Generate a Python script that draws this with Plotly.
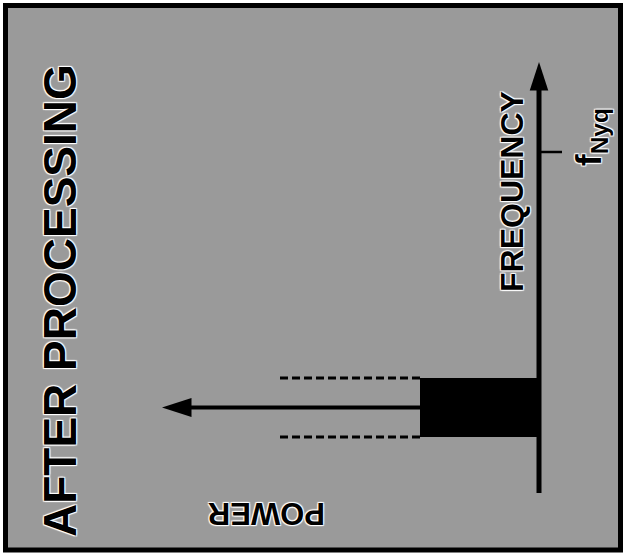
import plotly.graph_objects as go

# ---- data (diagram is drawn rotated: frequency runs upward, power runs leftward) ----
title_text = "AFTER PROCESSING"
freq_label = "FREQUENCY"
power_label = "POWER"
nyq_label = "f<sub>Nyq</sub>"

freq_axis_start = 0.0
freq_axis_end = 4.31
nyquist_freq = 3.41
nyq_tick_len = 0.23

band_low = 0.56
band_high = 1.15
band_power = 1.19          # height of the black band (power)
dash_extent = 2.61         # power reached by the dashed guides
signal_arrow_power = 3.77  # tip of the power arrow

# axis ranges (power axis reversed: increases to the left)
power_range = [5.39, -0.86]
freq_range = [-0.64, 4.93]

BG = "#9a9a9a"
FONT = "Liberation Sans, Arial, Helvetica, sans-serif"
HALO = "1px 1px 1px #ffffff, -1px -1px 1px #ffffff, 1px -1px 1px #ffffff, -1px 1px 1px #ffffff"

band_center = (band_low + band_high) / 2

fig = go.Figure()

# black band
fig.add_trace(go.Bar(
    orientation="h",
    x=[band_power], y=[band_center], base=[0],
    width=[band_high - band_low],
    marker=dict(color="black", line=dict(width=0)),
    hoverinfo="skip", showlegend=False,
))

# dashed guides extending the band edges
for f in (band_low, band_high):
    fig.add_trace(go.Scatter(
        x=[band_power, dash_extent], y=[f, f], mode="lines",
        line=dict(color="black", width=3, dash="8px,4px"),
        hoverinfo="skip", showlegend=False,
    ))

# Nyquist tick
fig.add_trace(go.Scatter(
    x=[0, -nyq_tick_len], y=[nyquist_freq, nyquist_freq], mode="lines",
    line=dict(color="black", width=2.5),
    hoverinfo="skip", showlegend=False,
))

# frequency axis arrow
fig.add_trace(go.Scatter(
    x=[0, 0], y=[freq_axis_start, freq_axis_end], mode="lines+markers",
    line=dict(color="black", width=5),
    marker=dict(symbol="arrow", size=[0, 30], angleref="previous", color="black",
                opacity=1, line=dict(width=0, color="black")),
    opacity=1, hoverinfo="skip", showlegend=False,
))

# power arrow
fig.add_trace(go.Scatter(
    x=[band_power, signal_arrow_power], y=[band_center, band_center], mode="lines+markers",
    line=dict(color="black", width=4),
    marker=dict(symbol="arrow", size=[0, 31], angleref="previous", color="black",
                opacity=1, line=dict(width=0, color="black")),
    opacity=1, hoverinfo="skip", showlegend=False,
))

annotations = [
    dict(x=0.27, y=3.01, xref="x", yref="y", text=f"<b>{freq_label}</b>",
         textangle=-90, showarrow=False, xanchor="center", yanchor="middle",
         font=dict(family=FONT, size=32, color="black", shadow=HALO)),
    dict(x=-0.52, y=3.56, xref="x", yref="y", text=f"<b>{nyq_label}</b>",
         textangle=-90, showarrow=False, xanchor="center", yanchor="middle",
         font=dict(family=FONT, size=35, color="black", shadow=HALO)),
    dict(x=2.72, y=-0.21, xref="x", yref="y", text=f"<b>{power_label}</b>",
         textangle=180, showarrow=False, xanchor="center", yanchor="middle",
         font=dict(family=FONT, size=31, color="black", shadow=HALO)),
    dict(x=4.79, y=1.92, xref="x", yref="y", text=f"<b>{title_text}</b>",
         textangle=-90, showarrow=False, xanchor="center", yanchor="middle",
         font=dict(family=FONT, size=46, color="black", shadow=HALO)),
]

shapes = [
    dict(type="rect", xref="paper", yref="paper",
         x0=5.5 / 625, x1=620.5 / 625, y0=1 - 550 / 557, y1=1 - 5.5 / 557,
         fillcolor=BG, line=dict(color="black", width=5), layer="below"),
]

fig.update_layout(
    width=625, height=557,
    margin=dict(l=0, r=0, t=0, b=0),
    paper_bgcolor="white", plot_bgcolor="white",
    xaxis=dict(range=power_range, visible=False, fixedrange=True),
    yaxis=dict(range=freq_range, visible=False, fixedrange=True),
    annotations=annotations, shapes=shapes,
    bargap=0, showlegend=False,
)

fig.write_html(
    "out.html",
    config={"displayModeBar": False},
    post_script="document.body.style.margin='0';document.body.style.padding='0';",
)
